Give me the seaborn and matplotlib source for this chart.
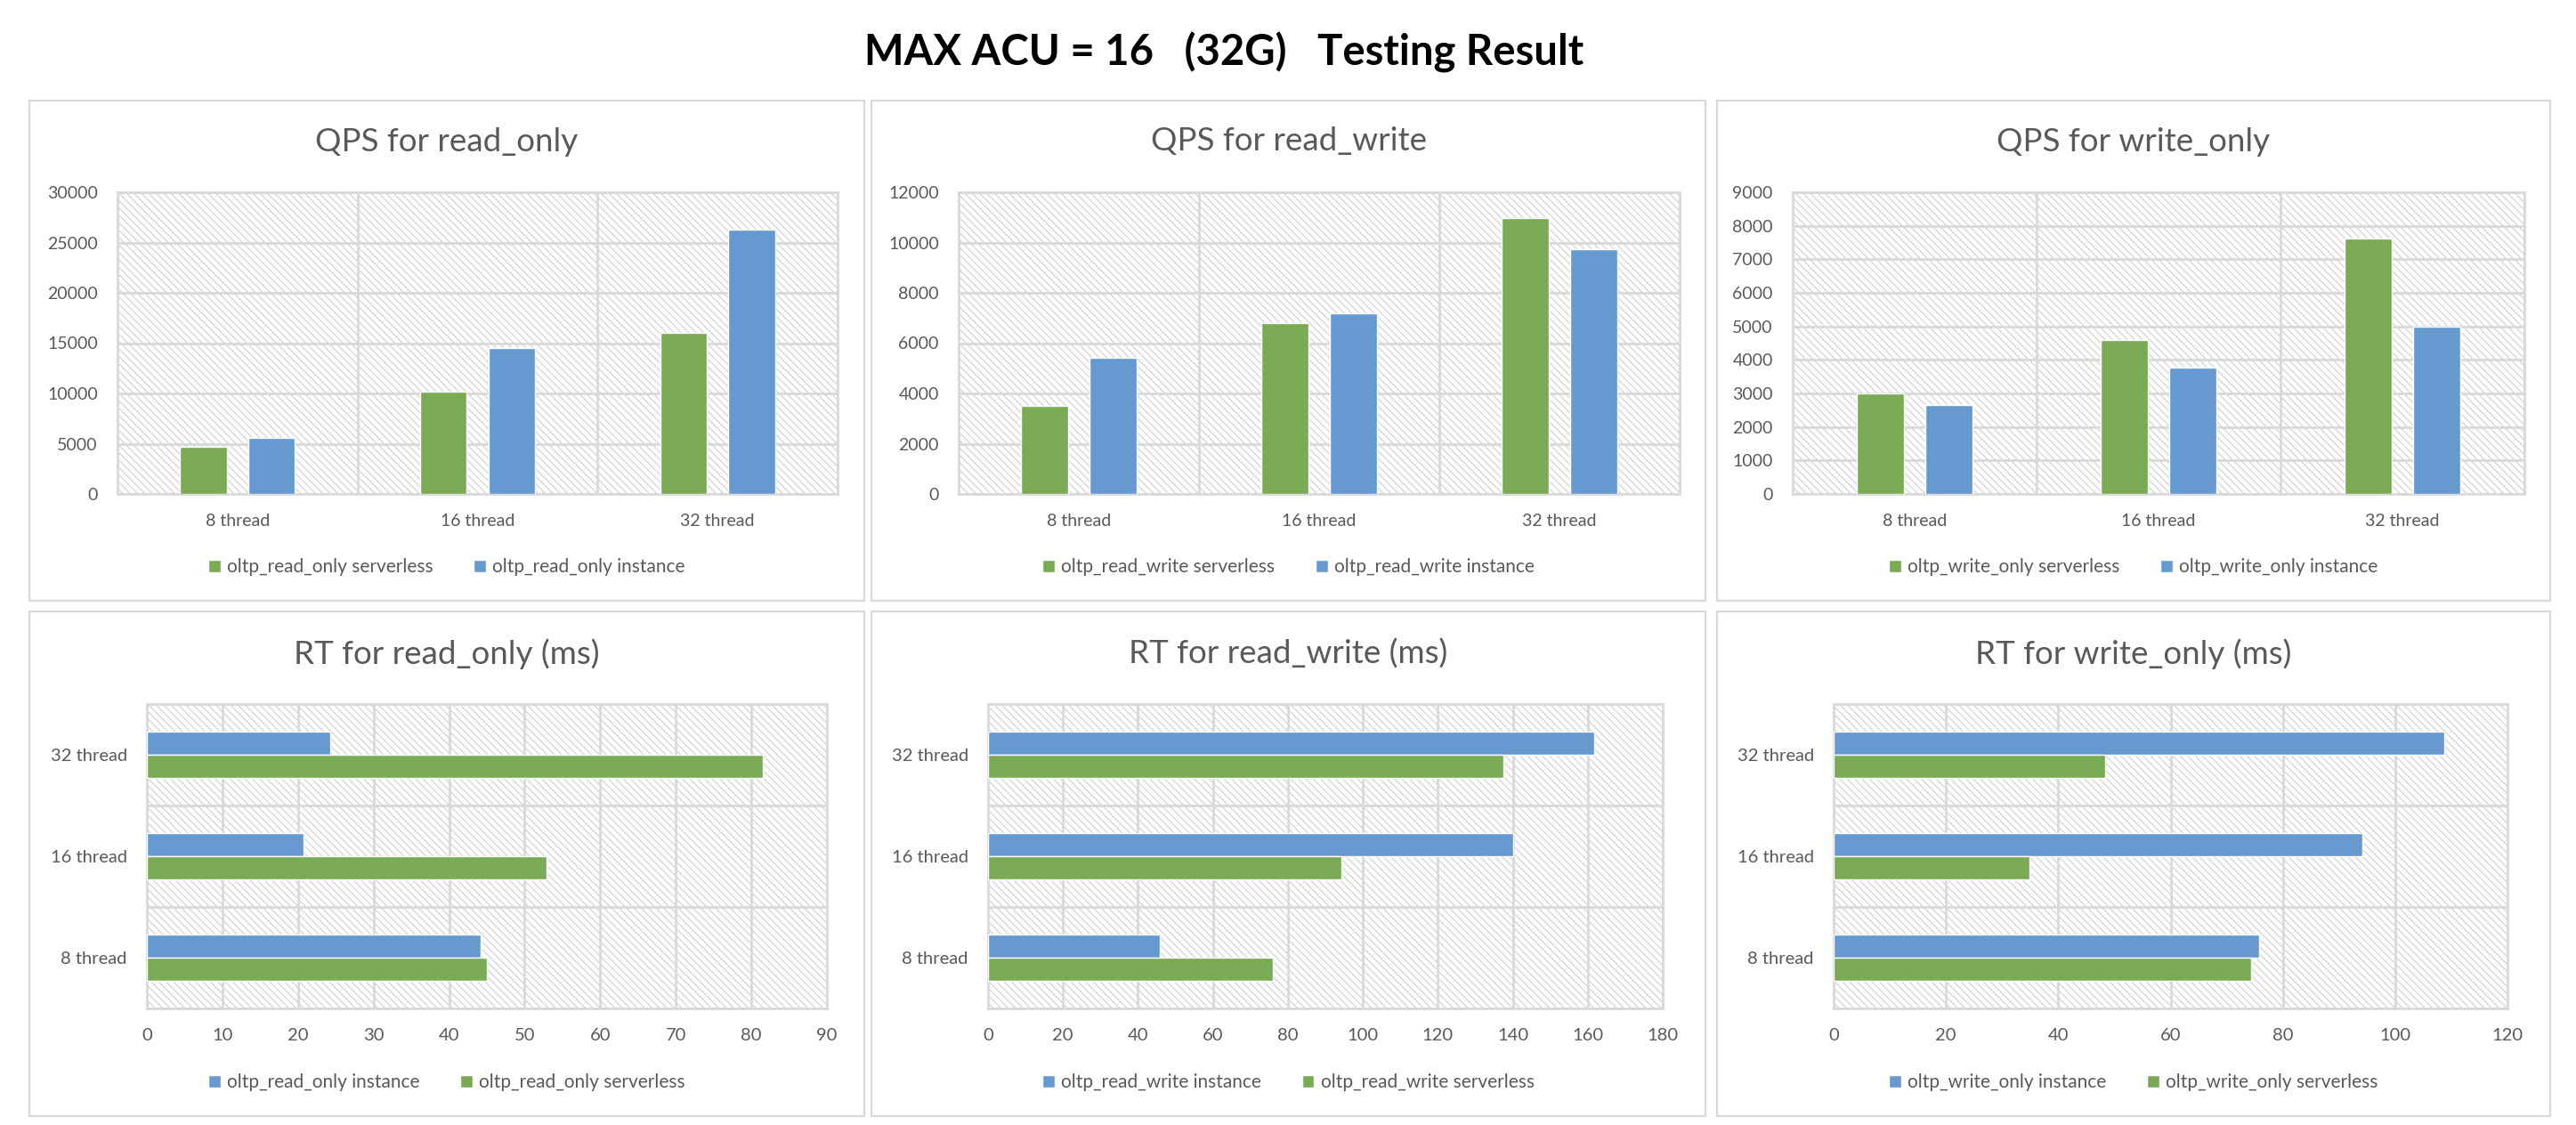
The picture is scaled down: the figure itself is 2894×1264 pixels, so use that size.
import numpy as np
import pandas as pd
import matplotlib
matplotlib.use("Agg")
import matplotlib.pyplot as plt
from matplotlib.patches import Rectangle, Patch
import seaborn as sns

# ---------------- data ----------------
threads = ["8 thread", "16 thread", "32 thread"]

qps_ro_serverless = [4700, 10150, 16000]
qps_ro_instance = [5600, 14550, 26300]
qps_rw_serverless = [3500, 6800, 10980]
qps_rw_instance = [5430, 7190, 9730]
qps_wo_serverless = [3010, 4600, 7610]
qps_wo_instance = [2660, 3760, 4990]

rt_ro_instance = [44.2, 20.7, 24.3]
rt_ro_serverless = [45.0, 52.9, 81.5]
rt_rw_instance = [45.8, 140.0, 161.6]
rt_rw_serverless = [76.0, 94.3, 137.5]
rt_wo_instance = [75.8, 94.2, 108.8]
rt_wo_serverless = [74.3, 34.9, 48.4]

qps_ro_ticks = [0, 5000, 10000, 15000, 20000, 25000, 30000]
qps_rw_ticks = [0, 2000, 4000, 6000, 8000, 10000, 12000]
qps_wo_ticks = [0, 1000, 2000, 3000, 4000, 5000, 6000, 7000, 8000, 9000]
rt_ro_ticks = [0, 10, 20, 30, 40, 50, 60, 70, 80, 90]
rt_rw_ticks = [0, 20, 40, 60, 80, 100, 120, 140, 160, 180]
rt_wo_ticks = [0, 20, 40, 60, 80, 100, 120]

main_title = "MAX ACU = 16   (32G)   Testing Result"

# ---------------- style ----------------
sns.set_theme(style="white")
plt.rcParams["font.family"] = ["Lato", "DejaVu Sans"]
plt.rcParams["hatch.linewidth"] = 0.8

GREEN = "#7BAA55"
BLUE = "#6699CF"
GRID = "#D9D9D9"
TXT = "#595959"
HATCH = "#CFCFCF"

W, H = 2894, 1264
fig = plt.figure(figsize=(W / 100, H / 100), dpi=100)
fig.patch.set_facecolor("white")


def fx(px):
    return px / W


def fy(py):
    return 1 - py / H


panel_x = [(33, 971), (979, 1916), (1929, 2865)]
panel_y = [(113, 675), (687, 1254)]
title_y = [159, 735]
legend_y = [637, 1216]

top_axes_x = [(132, 941), (1077, 1887), (2014, 2836)]
bot_axes_x = [(165, 929), (1110, 1868), (2060, 2817)]
top_axes_y = (216, 555)
bot_axes_y = (791, 1133)

# panel frames
for (py0, py1) in panel_y:
    for (px0, px1) in panel_x:
        fig.add_artist(Rectangle((fx(px0), fy(py1)), (px1 - px0) / W, (py1 - py0) / H,
                                 transform=fig.transFigure, fill=False,
                                 edgecolor=GRID, linewidth=1.6, zorder=0))

fig.text(fx(1375), fy(59), main_title, ha="center", va="center",
         fontsize=34, fontweight="bold", color="black")


def add_hatch(ax):
    ax.add_patch(Rectangle((0, 0), 1, 1, transform=ax.transAxes, facecolor="white",
                           edgecolor=HATCH, hatch="\\\\\\\\", linewidth=0, zorder=0.1))


def style_spines(ax):
    for s in ax.spines.values():
        s.set_color(GRID)
        s.set_linewidth(2.0)
        s.set_zorder(0.6)


def add_legend(xc, yc, handles):
    fig.legend(handles=handles, loc="center", bbox_to_anchor=(fx(xc), fy(yc)),
               ncol=2, frameon=False, fontsize=15, labelcolor=TXT,
               handlelength=0.65, handleheight=0.65, handletextpad=0.35,
               columnspacing=2.2)


def column_panel(i, title, serverless, instance, ticks, lab_s, lab_i):
    x0, x1 = top_axes_x[i]
    y0, y1 = top_axes_y
    ax = fig.add_axes([fx(x0), fy(y1), (x1 - x0) / W, (y1 - y0) / H])
    df = pd.DataFrame({
        "thread": threads * 2,
        "value": list(serverless) + list(instance),
        "type": [lab_s] * 3 + [lab_i] * 3,
    })
    sns.barplot(data=df, x="thread", y="value", hue="type", order=threads,
                hue_order=[lab_s, lab_i], palette=[GREEN, BLUE], width=0.567,
                gap=0.314, errorbar=None, ax=ax, legend=False, saturation=1,
                zorder=2)
    add_hatch(ax)
    ax.set_ylim(ticks[0], ticks[-1])
    ax.set_xlim(-0.5, 2.5)
    ax.set_yticks(ticks)
    ax.set_yticklabels([str(t) for t in ticks])
    ax.set_xticks(range(3))
    ax.set_xticklabels(threads)
    ax.set_xticks([-0.5, 0.5, 1.5, 2.5], minor=True)
    ax.set_axisbelow(True)
    ax.yaxis.grid(True, color=GRID, linewidth=2.0)
    ax.xaxis.grid(True, which="minor", color=GRID, linewidth=2.0)
    ax.xaxis.grid(False, which="major")
    ax.tick_params(axis="both", which="both", length=0, colors=TXT, labelsize=14)
    ax.tick_params(axis="x", pad=16)
    ax.tick_params(axis="y", pad=16)
    ax.set_xlabel("")
    ax.set_ylabel("")
    style_spines(ax)
    xc = (panel_x[i][0] + panel_x[i][1]) / 2
    fig.text(fx(xc), fy(title_y[0]), title, ha="center", va="center",
             fontsize=26.5, color=TXT)
    add_legend(xc, legend_y[0],
               [Patch(facecolor=GREEN, label=lab_s), Patch(facecolor=BLUE, label=lab_i)])


def bar_panel(i, title, instance, serverless, ticks, lab_i, lab_s):
    x0, x1 = bot_axes_x[i]
    y0, y1 = bot_axes_y
    ax = fig.add_axes([fx(x0), fy(y1), (x1 - x0) / W, (y1 - y0) / H])
    df = pd.DataFrame({
        "thread": threads * 2,
        "value": list(instance) + list(serverless),
        "type": [lab_i] * 3 + [lab_s] * 3,
    })
    order = threads[::-1]
    sns.barplot(data=df, y="thread", x="value", hue="type", order=order,
                hue_order=[lab_i, lab_s], palette=[BLUE, GREEN], width=0.45,
                orient="h", errorbar=None, ax=ax, legend=False, saturation=1,
                zorder=2)
    add_hatch(ax)
    ax.set_xlim(ticks[0], ticks[-1])
    ax.set_ylim(2.5, -0.5)
    ax.set_xticks(ticks)
    ax.set_xticklabels([str(t) for t in ticks])
    ax.set_yticks(range(3))
    ax.set_yticklabels(order)
    ax.set_yticks([-0.5, 0.5, 1.5, 2.5], minor=True)
    ax.set_axisbelow(True)
    ax.xaxis.grid(True, color=GRID, linewidth=2.0)
    ax.yaxis.grid(True, which="minor", color=GRID, linewidth=2.0)
    ax.yaxis.grid(False, which="major")
    ax.tick_params(axis="both", which="major", length=0, colors=TXT, labelsize=14.5)
    ax.tick_params(axis="y", which="minor", length=6, width=2.0, color=GRID)
    ax.tick_params(axis="x", which="minor", length=0)
    ax.tick_params(axis="x", pad=16)
    ax.tick_params(axis="y", pad=16)
    ax.set_xlabel("")
    ax.set_ylabel("")
    style_spines(ax)
    xc = (panel_x[i][0] + panel_x[i][1]) / 2
    fig.text(fx(xc), fy(title_y[1]), title, ha="center", va="center",
             fontsize=26.5, color=TXT)
    add_legend(xc, legend_y[1],
               [Patch(facecolor=BLUE, label=lab_i), Patch(facecolor=GREEN, label=lab_s)])


column_panel(0, "QPS for read_only", qps_ro_serverless, qps_ro_instance, qps_ro_ticks,
             "oltp_read_only serverless", "oltp_read_only instance")
column_panel(1, "QPS for read_write", qps_rw_serverless, qps_rw_instance, qps_rw_ticks,
             "oltp_read_write serverless", "oltp_read_write instance")
column_panel(2, "QPS for write_only", qps_wo_serverless, qps_wo_instance, qps_wo_ticks,
             "oltp_write_only serverless", "oltp_write_only instance")

bar_panel(0, "RT for read_only (ms)", rt_ro_instance, rt_ro_serverless, rt_ro_ticks,
          "oltp_read_only instance", "oltp_read_only serverless")
bar_panel(1, "RT for read_write (ms)", rt_rw_instance, rt_rw_serverless, rt_rw_ticks,
          "oltp_read_write instance", "oltp_read_write serverless")
bar_panel(2, "RT for write_only (ms)", rt_wo_instance, rt_wo_serverless, rt_wo_ticks,
          "oltp_write_only instance", "oltp_write_only serverless")

fig.savefig("out.png", dpi=100, facecolor="white")
